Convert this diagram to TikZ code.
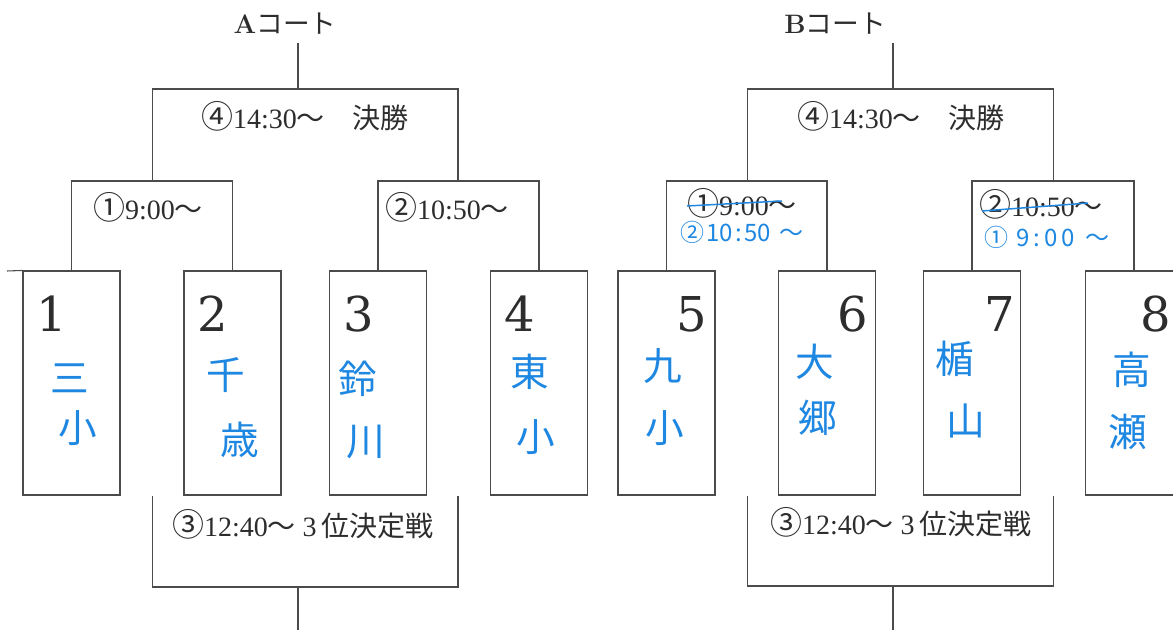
\documentclass[tikz,border=0pt]{standalone}
\usepackage{fontspec}
\newfontfamily\jp{Noto Sans CJK JP}
\newfontfamily\numfont{DejaVu Serif}
\newfontfamily\lblfont{Liberation Serif}
\newcommand{\cnum}[1]{{\jp\fontsize{24}{24}\selectfont #1}}
\definecolor{ink}{RGB}{75,75,75}
\definecolor{txt}{RGB}{45,45,45}
\definecolor{pen}{RGB}{30,135,225}
\begin{document}
\begin{tikzpicture}[x=0.75pt,y=-0.75pt,
  team/.style={draw=ink, line width=0.8pt, minimum width=72.75pt, minimum height=168pt, inner sep=0pt},
  num/.style={font=\numfont\fontsize{36}{36}\selectfont, text=txt, inner sep=0pt},
  lbl/.style={font=\lblfont\fontsize{21}{23}\selectfont, text=txt, inner sep=0pt},
  ttl/.style={font=\fontsize{20}{22}\selectfont, text=txt, inner sep=0pt},
  hw/.style={font=\jp\fontsize{29}{29}\selectfont, text=pen, inner sep=0pt},
  hwt/.style={font=\jp\fontsize{18}{18}\selectfont, text=pen, inner sep=0pt},
  link/.style={draw=ink, line width=0.8pt},
  strike/.style={draw=pen, line width=1.1pt}]
\fill[white] (0,0) rectangle (1173,630);
\useasboundingbox (0,0) rectangle (1173,630);
\clip (0,0) rectangle (1173,630);

% ---------------- A court ----------------
\node[ttl] (tA) at (285,24) {{\bfseries A}{\jp コート}};
\coordinate (topA) at (298,43);
\coordinate (fA) at (298,89);
\coordinate (sA1) at (152.5,181);
\coordinate (sA2) at (458,181);
\coordinate (tpA) at (298,587);
\coordinate (endA) at (298,630);
\coordinate (stub) at (7,271);
\node[team] (b1) at (71.5,383) {};
\node[team] (b2) at (232.5,383) {};
\node[team] (b3) at (378,383) {};
\node[team] (b4) at (539,383) {};

\draw[link] (topA) -- (fA);
\draw[link] (sA1) |- (fA) -| (sA2);
\draw[link] (b1.north) |- (sA1) -| (b2.north);
\draw[link] (b3.north) |- (sA2) -| (b4.north);
\draw[link] (b1.north west) -- (stub);
\draw[link] (sA1 |- b1.south) |- (tpA) -| (sA2 |- b1.south);
\draw[link] (tpA) -- (endA);

\node[lbl] (fAl) at (305,116) {\cnum{④}14:30{\jp 〜}\hspace{1em}{\jp 決勝}};
\node[lbl] (sA1l) at (148,207) {\cnum{①}9:00{\jp 〜}};
\node[lbl] (sA2l) at (447,207) {\cnum{②}10:50{\jp 〜}};
\node[lbl] (tpAl) at (303,524) {\cnum{③}12:40{\jp 〜}\hspace{5pt}3\hspace{4pt}{\jp 位決定戦}};

\node[num] (n1) at (52,314) {1};
\node[num] (n2) at (213,314) {2};
\node[num] (n3) at (359,314) {3};
\node[num] (n4) at (520,314) {4};

\node[hw] (h1a) at (70,378) {三};
\node[hw] (h1b) at (78,428) {小};
\node[hw] (h2a) at (226,375) {千};
\node[hw] (h2b) at (240,440) {歳};
\node[hw] (h3a) at (358,379) {鈴};
\node[hw] (h3b) at (366,442) {川};
\node[hw] (h4a) at (530,372) {東};
\node[hw] (h4b) at (536,437) {小};

% ---------------- B court ----------------
\node[ttl] (tB) at (835,24) {{\bfseries B}{\jp コート}};
\coordinate (topB) at (893,43);
\coordinate (fB) at (893,89);
\coordinate (sB1) at (747.5,181);
\coordinate (sB2) at (1053.5,181);
\coordinate (tpB) at (893,586);
\coordinate (endB) at (893,630);
\node[team] (b5) at (666.5,383) {};
\node[team] (b6) at (827,383) {};
\node[team] (b7) at (972,383) {};
\node[team] (b8) at (1134,383) {};

\draw[link] (topB) -- (fB);
\draw[link] (sB1) |- (fB) -| (sB2);
\draw[link] (b5.north) |- (sB1) -| (b6.north);
\draw[link] (b7.north) |- (sB2) -| (b8.north);
\draw[link] (sB1 |- b5.south) |- (tpB) -| (sB2 |- b5.south);
\draw[link] (tpB) -- (endB);

\node[lbl] (fBl) at (901,116) {\cnum{④}14:30{\jp 〜}\hspace{1em}{\jp 決勝}};
\node[lbl] (sB1l) at (742,203) {\cnum{①}9:00{\jp 〜}};
\node[lbl] (sB2l) at (1041,204) {\cnum{②}10:50{\jp 〜}};
\node[lbl] (tpBl) at (901,522) {\cnum{③}12:40{\jp 〜}\hspace{5pt}3\hspace{4pt}{\jp 位決定戦}};

\draw[strike] (687,206) -- (782,201);
\draw[strike] (982,211) -- (1088,203);
\node[hwt] (hB1) at (742,232) {②\hspace{1pt}10\hspace{2pt}:\hspace{2pt}50\hspace{6pt}〜};
\node[hwt] (hB2) at (1047,237) {①\hspace{6pt}9\hspace{3pt}:\hspace{3pt}0\hspace{3pt}0\hspace{8pt}〜};

\node[num] (n5) at (692,314) {5};
\node[num] (n6) at (853,314) {6};
\node[num] (n7) at (1000,314) {7};
\node[num] (n8) at (1156,314) {8};

\node[hw] (h5a) at (663,366) {九};
\node[hw] (h5b) at (665,428) {小};
\node[hw] (h6a) at (815,362) {大};
\node[hw] (h6b) at (818,418) {郷};
\node[hw] (h7a) at (955,359) {楯};
\node[hw] (h7b) at (966,421) {山};
\node[hw] (h8a) at (1132,370) {高};
\node[hw] (h8b) at (1128,432) {瀬};
\end{tikzpicture}
\end{document}
